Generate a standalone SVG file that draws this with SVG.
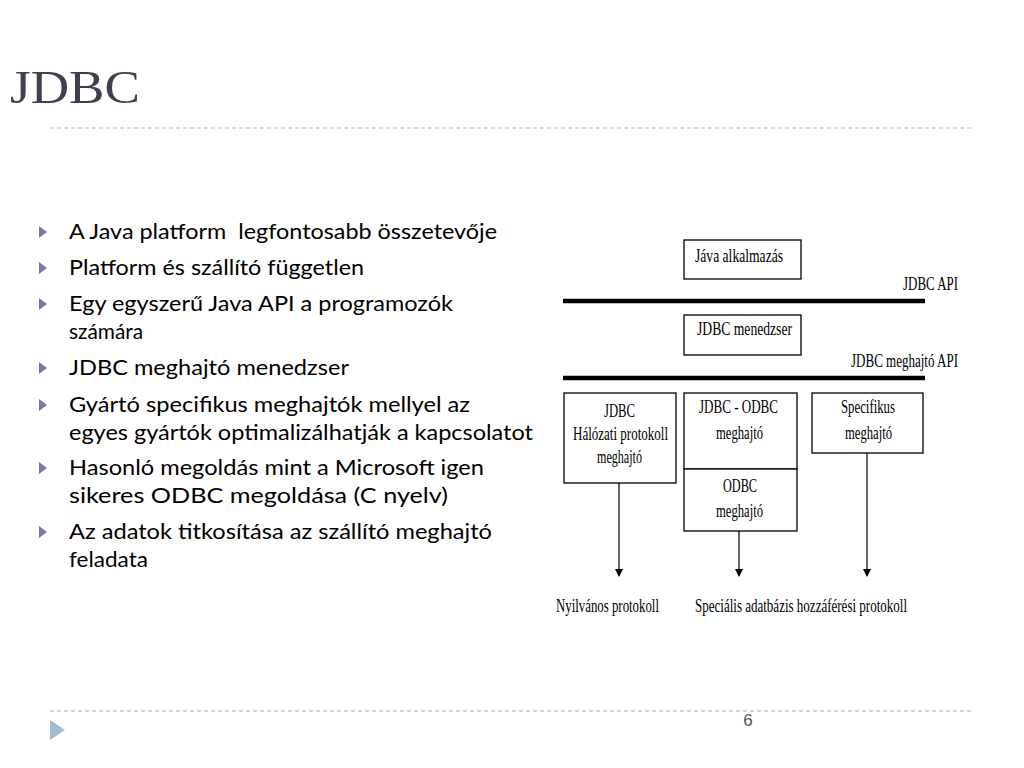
<svg xmlns="http://www.w3.org/2000/svg" width="1024" height="768" viewBox="0 0 1024 768">
<defs>
<style>
.title{font-family:"Liberation Serif",serif;font-size:46px;fill:#3f3f4f}
.bt{font-family:Lato,"Open Sans",sans-serif;font-size:21px;fill:#000}
.bul{fill:#7379a8}
.d{font-family:"Liberation Serif",serif;font-size:18.5px;fill:#000}
.box{fill:#fff;stroke:#000;stroke-width:1.3}
.bar{stroke:#000;stroke-width:4.5}
.arr{stroke:#000;stroke-width:1.2;fill:none}
</style>
<marker id="ah" markerWidth="8" markerHeight="10" refX="7" refY="4" orient="auto" markerUnits="userSpaceOnUse" viewBox="0 0 8 8">
<path d="M0,0 L8,4 L0,8 z" fill="#000"/>
</marker>
</defs>
<rect width="1024" height="768" fill="#fff"/>
<text class="title" x="10" y="103" textLength="130" lengthAdjust="spacingAndGlyphs">JDBC</text>
<line x1="50" y1="128" x2="972" y2="128" stroke="#b4bcc4" stroke-width="1.2" stroke-dasharray="4,3"/>
<line x1="50" y1="711" x2="972" y2="711" stroke="#9fb3c8" stroke-width="1.2" stroke-dasharray="4,3"/>
<path d="M50,720 L65,730 L50,740 z" fill="#a5bbd0"/>
<text x="748" y="726" font-family="Liberation Sans,sans-serif" font-size="17" fill="#555" text-anchor="middle">6</text>

<g id="bullets">
<path class="bul" d="M39,226 L47,232 L39,238 z"/>
<text class="bt" x="69" y="239" xml:space="preserve" textLength="428" lengthAdjust="spacingAndGlyphs">A Java platform  legfontosabb összetevője</text>
<path class="bul" d="M39,262 L47,268 L39,274 z"/>
<text class="bt" x="69" y="275" textLength="295" lengthAdjust="spacingAndGlyphs">Platform és szállító független</text>
<path class="bul" d="M39,298 L47,304 L39,310 z"/>
<text class="bt" x="69" y="311" textLength="384" lengthAdjust="spacingAndGlyphs">Egy egyszerű Java API a programozók</text>
<text class="bt" x="69" y="339" textLength="74" lengthAdjust="spacingAndGlyphs">számára</text>
<path class="bul" d="M39,362 L47,368 L39,374 z"/>
<text class="bt" x="69" y="375" textLength="280" lengthAdjust="spacingAndGlyphs">JDBC meghajtó menedzser</text>
<path class="bul" d="M39,399 L47,405 L39,411 z"/>
<text class="bt" x="69" y="412" textLength="401" lengthAdjust="spacingAndGlyphs">Gyártó specifikus meghajtók mellyel az</text>
<text class="bt" x="69" y="440" textLength="464" lengthAdjust="spacingAndGlyphs">egyes gyártók optimalizálhatják a kapcsolatot</text>
<path class="bul" d="M39,462 L47,468 L39,474 z"/>
<text class="bt" x="69" y="475" textLength="415" lengthAdjust="spacingAndGlyphs">Hasonló megoldás mint a Microsoft igen</text>
<text class="bt" x="69" y="503" textLength="379" lengthAdjust="spacingAndGlyphs">sikeres ODBC megoldása (C nyelv)</text>
<path class="bul" d="M39,526 L47,532 L39,538 z"/>
<text class="bt" x="69" y="539" textLength="423" lengthAdjust="spacingAndGlyphs">Az adatok titkosítása az szállító meghajtó</text>
<text class="bt" x="69" y="567" textLength="79" lengthAdjust="spacingAndGlyphs">feladata</text>
</g>

<g id="java-app">
<rect class="box" x="684" y="240" width="117" height="39"/>
<text class="d" x="695" y="262" textLength="88" lengthAdjust="spacingAndGlyphs">Jáva alkalmazás</text>
</g>
<g id="jdbc-api">
<line class="bar" x1="563" y1="301" x2="925" y2="301"/>
<text class="d" x="903" y="290" textLength="55" lengthAdjust="spacingAndGlyphs">JDBC API</text>
</g>
<g id="jdbc-manager">
<rect class="box" x="684" y="315" width="117" height="40"/>
<text class="d" x="697" y="335" textLength="95" lengthAdjust="spacingAndGlyphs">JDBC menedzser</text>
</g>
<g id="jdbc-driver-api">
<line class="bar" x1="563" y1="378" x2="925" y2="378"/>
<text class="d" x="851" y="367" textLength="107" lengthAdjust="spacingAndGlyphs">JDBC meghajtó API</text>
</g>
<g id="net-driver">
<rect class="box" x="564" y="393" width="112" height="90"/>
<text class="d" x="604" y="417" textLength="31" lengthAdjust="spacingAndGlyphs">JDBC</text>
<text class="d" x="573" y="440" textLength="95" lengthAdjust="spacingAndGlyphs">Hálózati protokoll</text>
<text class="d" x="597" y="463" textLength="45" lengthAdjust="spacingAndGlyphs">meghajtó</text>
</g>
<g id="jdbc-odbc">
<rect class="box" x="684" y="393" width="113" height="76"/>
<text class="d" x="699" y="413" textLength="79" lengthAdjust="spacingAndGlyphs">JDBC - ODBC</text>
<text class="d" x="716" y="439" textLength="47" lengthAdjust="spacingAndGlyphs">meghajtó</text>
</g>
<g id="odbc">
<rect class="box" x="684" y="469" width="113" height="62"/>
<text class="d" x="723" y="492" textLength="34" lengthAdjust="spacingAndGlyphs">ODBC</text>
<text class="d" x="716" y="517" textLength="47" lengthAdjust="spacingAndGlyphs">meghajtó</text>
</g>
<g id="specific">
<rect class="box" x="812" y="393" width="111" height="60"/>
<text class="d" x="841" y="413" textLength="54" lengthAdjust="spacingAndGlyphs">Specifikus</text>
<text class="d" x="845" y="439" textLength="47" lengthAdjust="spacingAndGlyphs">meghajtó</text>
</g>
<g id="connectors">
<line class="arr" x1="619" y1="483" x2="619" y2="576" marker-end="url(#ah)"/>
<line class="arr" x1="739" y1="531" x2="739" y2="576" marker-end="url(#ah)"/>
<line class="arr" x1="867" y1="453" x2="867" y2="576" marker-end="url(#ah)"/>
</g>
<g id="labels">
<text class="d" x="556" y="612" textLength="103" lengthAdjust="spacingAndGlyphs">Nyilvános protokoll</text>
<text class="d" x="695" y="612" textLength="212" lengthAdjust="spacingAndGlyphs">Speciális adatbázis hozzáférési protokoll</text>
</g>
</svg>
